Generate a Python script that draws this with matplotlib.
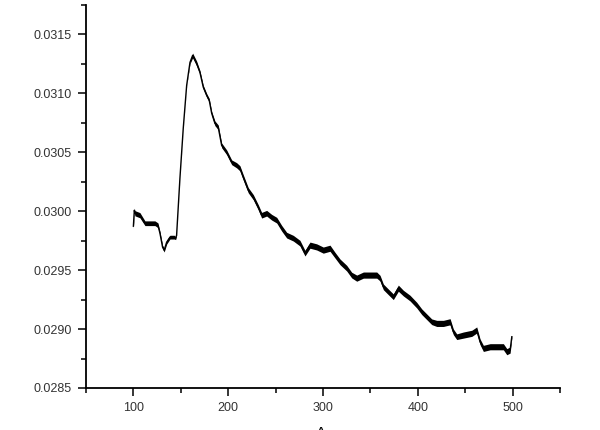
import matplotlib
matplotlib.use("Agg")
import matplotlib.pyplot as plt
from matplotlib.ticker import MultipleLocator, FormatStrFormatter

plt.rcParams['font.family'] = ['Liberation Sans Narrow', 'Liberation Sans', 'DejaVu Sans']

# trace (center of the noisy band)
x_vals = [100, 101, 101.6, 106.9, 112.2, 117.4, 122.7, 125.9, 128.0, 130.8,
          132.5, 135.1, 138.6, 143.1, 144.6, 145.6, 146.7, 149.1, 152.6, 156.2,
          159.7, 162.5, 166.7, 170.2, 173.7, 177.3, 180.0, 182.6, 186.0, 189.5,
          193.1, 198.4, 203.7, 208.9, 212.4, 215.9, 221.2, 226.5, 231.7, 235.3,
          240.6, 245.9, 251.2, 256.4, 261.7, 268.7, 275.7, 281.0, 286.3, 293.4,
          300.3, 307.4, 312.7, 318.0, 325.0, 330.3, 335.6, 342.6, 349.6, 356.7,
          360.2, 363.7, 368.9, 374.2, 379.5, 384.8, 391.8, 398.9, 404.2, 409.5,
          414.7, 420.0, 427.0, 434.1, 437.5, 441.1, 448.1, 457.0, 462.2, 465.7,
          469.2, 476.3, 483.3, 490.3, 493.9, 497.4, 499.2]
y_vals = [0.029873, 0.030008, 0.029983, 0.029966, 0.029898, 0.029898, 0.029898, 0.029881, 0.029814, 0.029695,
          0.029670, 0.029737, 0.029780, 0.029780, 0.029771, 0.029797, 0.029949, 0.030280, 0.030703, 0.031068,
          0.031263, 0.031322, 0.031254, 0.031178, 0.031053, 0.030983, 0.030941, 0.030831, 0.030746, 0.030712,
          0.030559, 0.030500, 0.030415, 0.030390, 0.030364, 0.030288, 0.030178, 0.030119, 0.030034, 0.029966,
          0.029983, 0.029949, 0.029924, 0.029856, 0.029797, 0.029771, 0.029729, 0.029644, 0.029712, 0.029697,
          0.029670, 0.029686, 0.029627, 0.029570, 0.029517, 0.029458, 0.029432, 0.029458, 0.029458, 0.029458,
          0.029432, 0.029358, 0.029316, 0.029274, 0.029347, 0.029305, 0.029263, 0.029203, 0.029147, 0.029104,
          0.029062, 0.029048, 0.029048, 0.029062, 0.028977, 0.028935, 0.028949, 0.028964, 0.028992, 0.028892,
          0.028836, 0.028850, 0.028850, 0.028850, 0.028808, 0.028822, 0.028935]
# half thickness of the noisy band, in units of 1e-5
band = [1.8, 1.8, 2.2, 2.2, 2.0, 2.0, 2.0, 2.0, 1.6, 1.6,
        1.6, 1.6, 1.6, 1.6, 1.2, 0.3, 0.2, 0.2, 0.2, 0.3,
        1.2, 2.0, 2.0, 1.6, 1.6, 1.6, 1.6, 1.6, 2.0, 2.0,
        2.0, 2.0, 2.0, 2.2, 2.2, 2.2, 2.2, 2.2, 2.2, 2.4,
        2.4, 2.4, 2.4, 2.4, 2.4, 2.4, 2.4, 2.4, 2.6, 2.6,
        2.6, 2.6, 2.4, 2.4, 2.4, 2.4, 2.6, 2.6, 2.6, 2.6,
        2.4, 2.4, 2.4, 2.4, 2.6, 2.4, 2.4, 2.4, 2.4, 2.4,
        2.4, 2.6, 2.6, 2.6, 2.4, 2.4, 2.6, 2.6, 2.6, 2.4,
        2.6, 2.6, 2.6, 2.6, 2.6, 2.6, 1.2]

fig = plt.figure(figsize=(6, 4.3), dpi=100)
ax = fig.add_axes([0.1433, 0.0977, 0.79, 0.8907])

lo = [y - b * 1e-5 for y, b in zip(y_vals, band)]
hi = [y + b * 1e-5 for y, b in zip(y_vals, band)]
ax.fill_between(x_vals, lo, hi, color="black", linewidth=0)
ax.plot(x_vals, y_vals, color="black", linewidth=1.0)

ax.set_xlim(50, 550)
ax.set_ylim(0.0285, 0.03175)
ax.xaxis.set_major_locator(MultipleLocator(100))
ax.xaxis.set_minor_locator(MultipleLocator(50))
ax.yaxis.set_major_locator(MultipleLocator(0.0005))
ax.yaxis.set_minor_locator(MultipleLocator(0.00025))
ax.yaxis.set_major_formatter(FormatStrFormatter('%.4f'))

for s in ("top", "right"):
    ax.spines[s].set_visible(False)
for s in ("left", "bottom"):
    ax.spines[s].set_linewidth(1.3)

ax.tick_params(which="major", direction="out", length=6, width=1.1,
               labelsize=9, colors="black", labelcolor="#333333", pad=4)
ax.tick_params(which="minor", direction="out", length=3.5, width=1.1)

# axis titles, mostly cut off by the figure border as in the source
fig.text(321 / 600, 1 - 426 / 430, "A", ha="center", va="top", fontsize=11)
fig.text(3 / 600, 1 - 205 / 430, "B", ha="right", va="center", rotation=90, fontsize=11)

fig.savefig("out.png", dpi=100)
